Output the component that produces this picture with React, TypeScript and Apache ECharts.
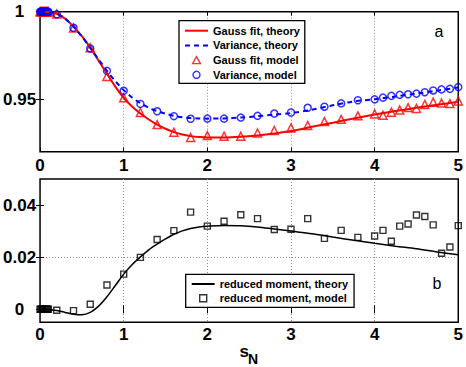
import React, { useEffect, useRef } from "react";
import * as echarts from "echarts";

// ---------- data ----------
const theoryX = [0, 0.1, 0.2, 0.3, 0.4, 0.5, 0.6, 0.7, 0.8, 0.9, 1.0, 1.1, 1.2, 1.3, 1.4, 1.5, 1.6, 1.7, 1.8, 1.9, 2.0, 2.2, 2.4, 2.6, 2.8, 3.0, 3.25, 3.5, 3.75, 4.0, 4.25, 4.5, 4.75, 5.0];
const gaussTheory = [1.0, 0.9998, 0.9988, 0.996, 0.9915, 0.986, 0.9795, 0.972, 0.9645, 0.9572, 0.9508, 0.9458, 0.9418, 0.9384, 0.9355, 0.9331, 0.9312, 0.9298, 0.9289, 0.9284, 0.9281, 0.9281, 0.9285, 0.9293, 0.9304, 0.9318, 0.9342, 0.9366, 0.939, 0.9412, 0.9432, 0.9451, 0.9468, 0.9486];
const varianceTheory = [1.0, 0.9998, 0.9988, 0.996, 0.9915, 0.9858, 0.9793, 0.9727, 0.9662, 0.9603, 0.9552, 0.951, 0.9477, 0.9451, 0.9432, 0.9417, 0.9405, 0.9397, 0.9392, 0.939, 0.9389, 0.939, 0.9395, 0.9403, 0.9412, 0.9421, 0.944, 0.9465, 0.9487, 0.95, 0.9516, 0.9532, 0.9549, 0.9567];
const momentTheory = [0.0, -0.0001, -0.0005, -0.0012, -0.0019, -0.0021, -0.0012, 0.0012, 0.0048, 0.0091, 0.0135, 0.0171, 0.0201, 0.0228, 0.025, 0.027, 0.0288, 0.0301, 0.031, 0.0316, 0.0319, 0.0322, 0.0321, 0.0316, 0.0308, 0.03, 0.029, 0.0277, 0.0265, 0.0253, 0.0242, 0.0232, 0.022, 0.0209];

const modelX = [0, 0.01, 0.02, 0.03, 0.04, 0.05, 0.06, 0.07, 0.08, 0.09, 0.1, 0.2, 0.4, 0.6, 0.8, 1.0, 1.2, 1.4, 1.6, 1.8, 2.0, 2.2, 2.4, 2.6, 2.8, 3.0, 3.2, 3.4, 3.6, 3.8, 4.0, 4.1, 4.2, 4.3, 4.4, 4.5, 4.6, 4.7, 4.8, 4.9, 5.0];
const gaussModel = [1, 1, 1, 1, 1, 1, 1, 1, 1, 1, 1, 0.9987, 0.9907, 0.9794, 0.963, 0.9508, 0.9424, 0.9355, 0.9311, 0.9281, 0.9292, 0.9289, 0.9288, 0.9307, 0.9321, 0.9336, 0.935, 0.9372, 0.9385, 0.9405, 0.9416, 0.9408, 0.9426, 0.9438, 0.9452, 0.9447, 0.947, 0.9483, 0.9478, 0.9475, 0.949];
const varianceModel = [1, 1, 1, 1, 1, 1, 1, 1, 1, 1, 1, 0.9985, 0.9908, 0.979, 0.9662, 0.9548, 0.9473, 0.9431, 0.9403, 0.9388, 0.9389, 0.9389, 0.9395, 0.9405, 0.9418, 0.9424, 0.9451, 0.9457, 0.9476, 0.9494, 0.9499, 0.9509, 0.9519, 0.9525, 0.9528, 0.9532, 0.954, 0.955, 0.9556, 0.9559, 0.9569];
const momentModel = [0, 0, 0, 0, 0, 0, 0, 0, 0, 0, 0, -0.0004, -0.0005, 0.0019, 0.0093, 0.0135, 0.0199, 0.0268, 0.0302, 0.0373, 0.0319, 0.0338, 0.0363, 0.0348, 0.0306, 0.0307, 0.0348, 0.0272, 0.0303, 0.0276, 0.0281, 0.0303, 0.0261, 0.0319, 0.0327, 0.0362, 0.0356, 0.0324, 0.0215, 0.0239, 0.0321];

const xTicks = [0, 1, 2, 3, 4, 5];
const topYTicks = [0.95, 1];
const bottomYTicks = [0, 0.02, 0.04];

const topLegend = ["Gauss fit, theory", "Variance, theory", "Gauss fit, model", "Variance, model"];
const bottomLegend = ["reduced moment, theory", "reduced moment, model"];

const FONT = '"Liberation Sans", Arial, Helvetica, sans-serif';

const zip = (xs: number[], ys: number[]) => xs.map((x, i) => [x, ys[i]]);

const gridLine = { show: true, lineStyle: { color: "#8a8a8a", width: 1, type: [1, 2] as any }, showMinLine: false, showMaxLine: false };

function xAxes(gridIndex: number, margin: number) {
  return [
    {
      gridIndex, type: "value", min: 0, max: 5, interval: 1, position: "bottom",
      axisLine: { show: false },
      axisTick: { show: true, inside: true, length: 4, lineStyle: { color: "#000", width: 1 } },
      axisLabel: { show: true, margin, color: "#000", fontFamily: FONT, fontWeight: "bold", fontSize: 17, customValues: xTicks },
      splitLine: gridLine,
    },
    {
      gridIndex, type: "value", min: 0, max: 5, interval: 1, position: "top",
      axisLine: { show: false },
      axisTick: { show: true, inside: true, length: 4, lineStyle: { color: "#000", width: 1 } },
      axisLabel: { show: false },
      splitLine: { show: false },
    },
  ];
}

function yAxes(gridIndex: number, min: number, max: number, ticks: number[]) {
  return [
    {
      gridIndex, type: "value", min, max, position: "left",
      axisLine: { show: false },
      axisTick: { show: true, inside: true, length: 4, customValues: ticks, lineStyle: { color: "#000", width: 1 } },
      axisLabel: { show: true, customValues: ticks, align: "center", margin: 20.5, color: "#000", fontFamily: FONT, fontWeight: "bold", fontSize: 17 },
      splitLine: gridLine,
    },
    {
      gridIndex, type: "value", min, max, position: "right",
      axisLine: { show: false },
      axisTick: { show: true, inside: true, length: 4, customValues: ticks, lineStyle: { color: "#000", width: 1 } },
      axisLabel: { show: false },
      splitLine: { show: false },
    },
  ];
}

const hiddenSymbol = { color: "transparent", borderColor: "transparent", borderWidth: 0 };
const TRI_ICON = "path://M5,0L10,9L0,9Z";
const SQUARE_ICON = "path://M0,0L10,0L10,10L0,10Z";

const legendBase = {
  orient: "vertical",
  align: "left",
  itemWidth: 23,
  itemHeight: 7,
  symbolKeepAspect: true,
  backgroundColor: "#fff",
  borderColor: "#000",
  borderWidth: 1.3,
  borderRadius: 0,
  selectedMode: false,
  itemStyle: { borderWidth: 1.4 },
  textStyle: { fontFamily: FONT, fontWeight: "bold", fontSize: 11, color: "#000", lineHeight: 12 },
};

export default function App() {
  const ref = useRef<HTMLDivElement>(null);
  useEffect(() => {
    if (!ref.current) return;
    const chart = echarts.init(ref.current, null, { renderer: "svg" });
    const option: any = {
      animation: false,
      backgroundColor: "#fff",
      grid: [
        { left: 35.5, top: 11.7, width: 426.5, height: 140, show: true, borderColor: "#000", borderWidth: 1.5, backgroundColor: "transparent" },
        { left: 35.5, top: 179, width: 426.5, height: 143.3, show: true, borderColor: "#000", borderWidth: 1.5, backgroundColor: "transparent" },
      ],
      legend: [
        {
          ...legendBase, left: 179, top: 20.7, itemGap: 2.7, padding: [4, 5, 2.5, 5],
          data: [
            { name: topLegend[0], itemStyle: hiddenSymbol },
            { name: topLegend[1], itemStyle: hiddenSymbol },
            { name: topLegend[2], icon: TRI_ICON, symbolKeepAspect: true },
            { name: topLegend[3], icon: "circle", symbolKeepAspect: true },
          ],
        },
        {
          ...legendBase, left: 185.7, top: 274.3, itemGap: 2.3, padding: [3.7, 6, 3, 5],
          data: [
            { name: bottomLegend[0], itemStyle: hiddenSymbol },
            { name: bottomLegend[1], icon: SQUARE_ICON, symbolKeepAspect: true },
          ],
        },
      ],
      xAxis: [...xAxes(0, 5), ...xAxes(1, 4)],
      yAxis: [...yAxes(0, 0.92, 1, topYTicks), ...yAxes(1, -0.005, 0.05, bottomYTicks)],
      series: [
        {
          name: topLegend[0], type: "line", xAxisIndex: 0, yAxisIndex: 0, data: zip(theoryX, gaussTheory),
          symbol: "none", smooth: 0.3, lineStyle: { color: "#ff0000", width: 2 }, itemStyle: { color: "#ff0000" },
        },
        {
          name: topLegend[1], type: "line", xAxisIndex: 0, yAxisIndex: 0, data: zip(theoryX, varianceTheory),
          symbol: "none", smooth: 0.3, lineStyle: { color: "#0000ff", width: 2, type: [5, 4] }, itemStyle: { color: "#0000ff" },
        },
        {
          name: topLegend[2], type: "scatter", xAxisIndex: 0, yAxisIndex: 0, data: zip(modelX, gaussModel),
          symbol: "triangle", symbolSize: 8, clip: false,
          itemStyle: { color: "transparent", borderColor: "#ff0000", borderWidth: 1.5 },
        },
        {
          name: topLegend[3], type: "scatter", xAxisIndex: 0, yAxisIndex: 0, data: zip(modelX, varianceModel),
          symbol: "circle", symbolSize: 7, clip: false,
          itemStyle: { color: "transparent", borderColor: "#0000ff", borderWidth: 1.5 },
        },
        {
          name: bottomLegend[0], type: "line", xAxisIndex: 2, yAxisIndex: 2, data: zip(theoryX, momentTheory),
          symbol: "none", smooth: 0.3, lineStyle: { color: "#000", width: 1.5 }, itemStyle: { color: "#000" },
        },
        {
          name: bottomLegend[1], type: "scatter", xAxisIndex: 2, yAxisIndex: 2, data: zip(modelX, momentModel),
          symbol: "rect", symbolSize: 6, clip: false,
          itemStyle: { color: "transparent", borderColor: "#000", borderWidth: 1.4 },
        },
      ],
      graphic: [
        { type: "text", x: 439, y: 31.8, style: { text: "a", fontFamily: FONT, fontSize: 16, fill: "#000", align: "center", verticalAlign: "middle" } },
        { type: "text", x: 437, y: 283.8, style: { text: "b", fontFamily: FONT, fontSize: 16, fill: "#000", align: "center", verticalAlign: "middle" } },
        { type: "text", x: 239.5, y: 351.2, style: { text: "s", fontFamily: FONT, fontWeight: "bold", fontSize: 17, fill: "#000", align: "left", verticalAlign: "middle" } },
        { type: "text", x: 248, y: 358.5, style: { text: "N", fontFamily: FONT, fontWeight: "bold", fontSize: 14, fill: "#000", align: "left", verticalAlign: "middle" } },
      ],
    };
    chart.setOption(option);
    return () => chart.dispose();
  }, []);
  return <div ref={ref} style={{ position: "fixed", left: 0, top: 0, width: 466, height: 367 }} />;
}
